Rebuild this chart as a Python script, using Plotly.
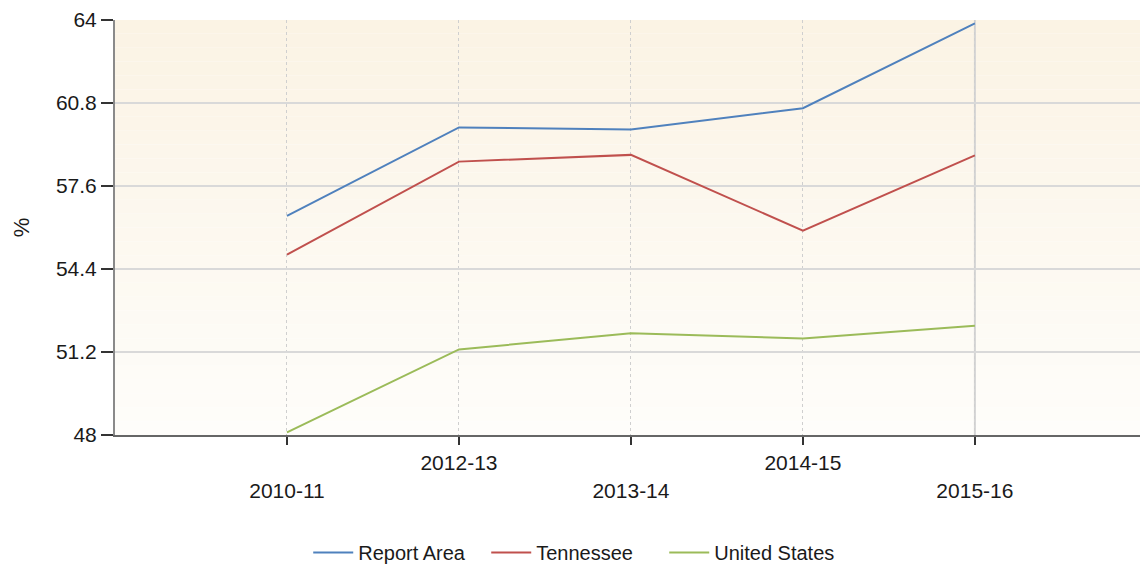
import plotly.graph_objs as go

years = ["2010-11", "2012-13", "2013-14", "2014-15", "2015-16"]
report_area = [56.45, 59.86, 59.78, 60.6, 63.87]
tennessee = [54.95, 58.54, 58.8, 55.88, 58.78]
united_states = [48.1, 51.3, 51.92, 51.72, 52.21]
y_ticks = [48, 51.2, 54.4, 57.6, 60.8, 64]

FONT = "Liberation Sans Narrow, Arial Narrow, Liberation Sans, Arial, sans-serif"

# staggered tick labels: every other one dropped a line
tick_text = [("<br>" + y) if i % 2 == 0 else y for i, y in enumerate(years)]

fig = go.Figure()
fig.add_trace(go.Scatter(x=years, y=report_area, name="Report Area", mode="lines",
                         line=dict(color="#4F81BD", width=2)))
fig.add_trace(go.Scatter(x=years, y=tennessee, name="Tennessee", mode="lines",
                         line=dict(color="#C0504D", width=2)))
fig.add_trace(go.Scatter(x=years, y=united_states, name="United States", mode="lines",
                         line=dict(color="#9BBB59", width=2)))

# soft vertical gradient behind the plot area
n = 30
top = (251, 243, 228)
bot = (254, 253, 250)
shapes = []
for i in range(n):
    t = i / (n - 1)
    c = tuple(round(top[k] + (bot[k] - top[k]) * t) for k in range(3))
    shapes.append(dict(type="rect", xref="paper", yref="paper",
                       x0=0, x1=1, y0=1 - (i + 1) / n, y1=1 - i / n,
                       fillcolor="rgb(%d,%d,%d)" % c, line_width=0, layer="below"))
# last category line is solid
shapes.append(dict(type="line", xref="x", yref="paper", x0=years[-1], x1=years[-1],
                   y0=0, y1=1, line=dict(color="#d4d4d4", width=2), layer="below"))

fig.update_layout(
    width=1132, height=556,
    margin=dict(l=107, r=0, t=12, b=129, autoexpand=False),
    paper_bgcolor="white", plot_bgcolor="white",
    font=dict(family=FONT, size=21, color="#1a1a1a"),
    shapes=shapes,
    showlegend=True,
    legend=dict(orientation="h", x=0.449, xanchor="center", y=-0.283, yanchor="middle",
                font=dict(size=20), itemwidth=40, entrywidth=123),
    annotations=[dict(text="%", xref="paper", yref="paper", x=-0.091, y=0.5,
                      xanchor="center", yanchor="middle", textangle=-90,
                      showarrow=False, font=dict(size=22))],
    xaxis=dict(type="category", range=[-1, 4.96], tickmode="array", tickvals=years,
               ticktext=tick_text, ticks="outside", ticklen=8, tickwidth=1.5,
               tickcolor="#333333", showline=True, linecolor="#666666", linewidth=2,
               showgrid=True, gridcolor="#cfcfcf", griddash="dot", gridwidth=1,
               zeroline=False, automargin=False),
    yaxis=dict(range=[48, 64], tickmode="array", tickvals=y_ticks,
               ticktext=[str(v) if v % 1 else str(int(v)) for v in y_ticks],
               ticks="outside", ticklen=12, tickwidth=1.5, tickcolor="#333333",
               showline=True, linecolor="#8a8a8a", linewidth=2,
               showgrid=True, gridcolor="#d9d9d9", gridwidth=2, zeroline=False,
               automargin=False),
)

fig.write_html("out.html")
